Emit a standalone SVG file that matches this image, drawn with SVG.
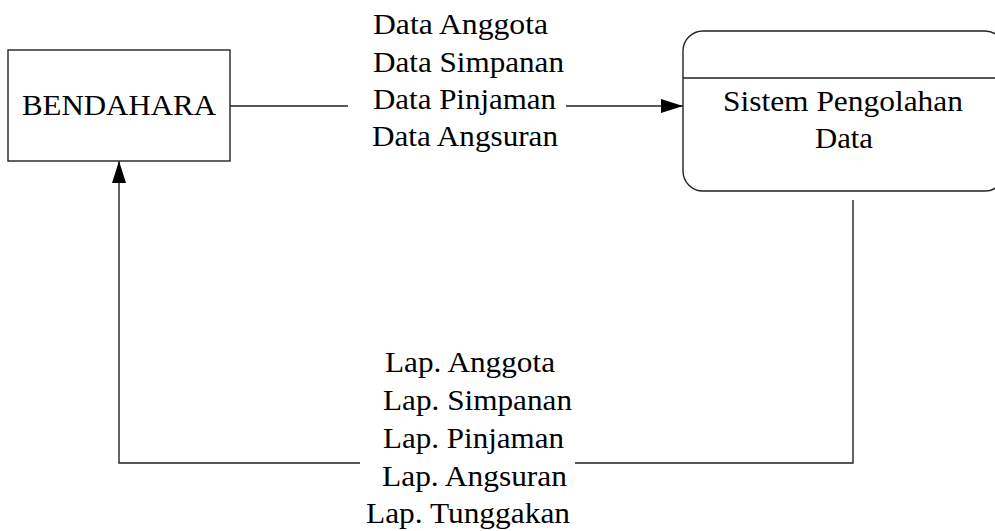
<svg xmlns="http://www.w3.org/2000/svg" width="995" height="531" viewBox="0 0 995 531">
<defs>
<style>
.shape{fill:#fff;stroke:#222;stroke-width:1.4}
.ln{fill:none;stroke:#222;stroke-width:1.4}
</style>
<marker id="ah" markerUnits="userSpaceOnUse" markerWidth="23" markerHeight="15" refX="22" refY="7" orient="auto">
<path d="M0,0 L22,7 L0,14 Z" fill="#000"/>
</marker>
</defs>
<rect width="995" height="531" fill="#fff"/>
<g id="connectors">
<line class="ln" x1="230" y1="106" x2="348" y2="106"/>
<line class="ln" x1="566" y1="106" x2="683" y2="106" marker-end="url(#ah)"/>
<polyline class="ln" points="853,200 853,463 575,463"/>
<polyline class="ln" points="360,463 119,463 119,161" marker-end="url(#ah)"/>
<g id="label-data" font-family="Liberation Serif, serif" font-size="30" fill="#000">
<text x="373" y="34" textLength="175" lengthAdjust="spacingAndGlyphs">Data Anggota</text>
<text x="373" y="72" textLength="191" lengthAdjust="spacingAndGlyphs">Data Simpanan</text>
<text x="373" y="109" textLength="183" lengthAdjust="spacingAndGlyphs">Data Pinjaman</text>
<text x="372" y="146" textLength="186" lengthAdjust="spacingAndGlyphs">Data Angsuran</text>
</g>
<g id="label-lap" font-family="Liberation Serif, serif" font-size="30" fill="#000">
<text x="385" y="372" textLength="170" lengthAdjust="spacingAndGlyphs">Lap. Anggota</text>
<text x="383" y="410" textLength="189" lengthAdjust="spacingAndGlyphs">Lap. Simpanan</text>
<text x="383" y="448" textLength="181" lengthAdjust="spacingAndGlyphs">Lap. Pinjaman</text>
<text x="382" y="486" textLength="185" lengthAdjust="spacingAndGlyphs">Lap. Angsuran</text>
<text x="366" y="523" textLength="204" lengthAdjust="spacingAndGlyphs">Lap. Tunggakan</text>
</g>
</g>
<g id="bendahara" font-family="Liberation Serif, serif" font-size="30" fill="#000">
<rect class="shape" x="8" y="50" width="222" height="111"/>
<text x="22" y="115" textLength="194" lengthAdjust="spacingAndGlyphs">BENDAHARA</text>
</g>
<g id="sistem" font-family="Liberation Serif, serif" font-size="30" fill="#000">
<rect class="shape" x="683" y="31" width="322" height="160" rx="20" ry="20"/>
<line class="ln" x1="683" y1="78" x2="995" y2="78"/>
<text x="723" y="111" textLength="240" lengthAdjust="spacingAndGlyphs">Sistem Pengolahan</text>
<text x="815" y="148" textLength="58" lengthAdjust="spacingAndGlyphs">Data</text>
</g>
</svg>
